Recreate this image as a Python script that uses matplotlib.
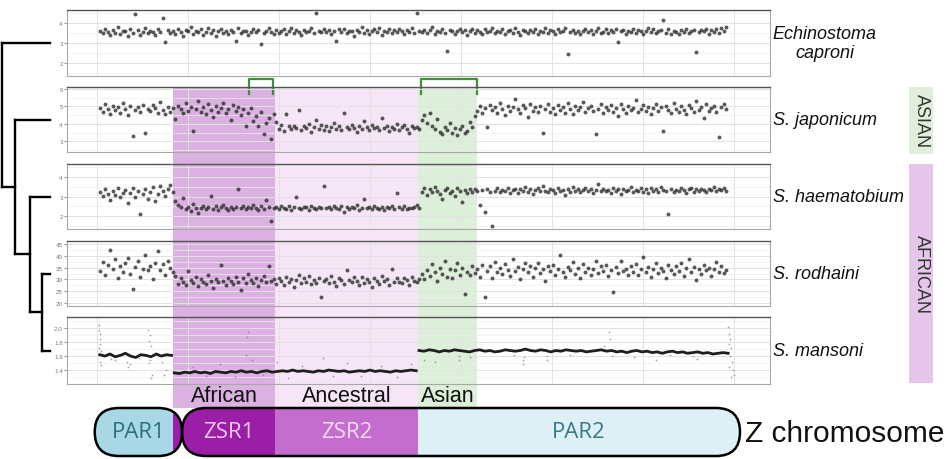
import numpy as np
import matplotlib
matplotlib.use("Agg")
import matplotlib.pyplot as plt
from matplotlib.patches import FancyBboxPatch, Rectangle
from matplotlib.ticker import AutoMinorLocator

plt.rcParams['font.family'] = ['Liberation Sans', 'DejaVu Sans']

# ---- data (Z coverage per window, position in Mb) ----
species = ["Echinostoma\ncaproni", "S. japonicum", "S. haematobium", "S. rodhaini", "S. mansoni"]

echinostoma = [
    3.62, 3.48, 3.71, 3.55, 3.40, 3.66, 3.52, 3.78, 3.45, 3.60,
    3.58, 3.35, 3.69, 3.50, 4.45, 3.63, 3.42, 3.57, 3.74, 3.49,
    3.61, 3.53, 3.38, 3.70, 3.56, 4.25, 3.04, 3.65, 3.51, 3.59,
    3.47, 3.72, 3.55, 3.33, 3.64, 3.58, 3.80, 3.46, 3.62, 3.54,
    3.68, 3.41, 3.57, 3.75, 3.50, 3.63, 3.36, 3.59, 3.71, 3.52,
    3.60, 3.44, 3.66, 3.55, 3.12, 3.73, 3.49, 3.58, 3.62, 3.39,
    3.57, 3.70, 3.53, 3.64, 2.96, 3.48, 3.61, 3.77, 3.55, 3.43,
    3.66, 3.52, 3.59, 3.69, 3.46, 3.58, 3.73, 3.50, 3.63, 3.56,
    3.41, 3.67, 3.54, 3.60, 3.75, 3.48, 4.50, 3.62, 3.57, 3.70,
    3.53, 3.64, 3.45, 3.59, 3.11, 3.68, 3.55, 3.72, 3.49, 3.61,
    3.58, 3.36, 3.66, 3.54, 3.79, 3.51, 3.63, 3.47, 3.60, 3.69,
    3.55, 3.74, 3.42, 3.62, 3.57, 3.68, 3.50, 3.64, 3.53, 3.71,
    3.59, 3.46, 3.65, 3.56, 3.73, 3.48, 4.48, 3.61, 3.55, 3.67,
    3.52, 3.63, 3.78, 3.44, 3.60, 3.57, 3.69, 3.51, 2.62, 3.65,
    3.58, 3.47, 3.62, 3.70, 3.54, 3.66, 3.41, 3.59, 3.72, 3.50,
    3.64, 3.56, 3.43, 3.68, 3.53, 3.61, 3.75, 3.48, 3.60, 3.57,
    3.69, 3.45, 3.58, 3.63, 3.51, 3.74, 3.55, 3.40, 3.66, 3.59,
    3.52, 3.67, 3.57, 3.71, 3.46, 3.62, 3.55, 3.77, 3.49, 3.64,
    3.58, 3.43, 3.68, 3.54, 3.61, 3.73, 2.43, 3.56, 3.65, 3.50,
    3.62, 3.47, 3.59, 3.70, 3.53, 3.66, 3.44, 3.60, 3.76, 3.52,
    3.57, 3.69, 3.48, 3.63, 3.55, 3.72, 3.05, 3.58, 3.64, 3.46,
    3.61, 3.54, 3.71, 3.49, 3.66, 3.58, 3.43, 3.62, 3.74, 3.55,
    3.68, 3.50, 3.59, 3.64, 4.15, 3.52, 3.70, 3.47, 3.61, 3.57,
    3.45, 3.66, 3.55, 3.72, 3.49, 3.60, 3.67, 2.55, 3.53, 3.63,
    3.58, 3.71, 3.46, 3.64, 3.56, 3.69, 3.52, 3.75, 3.60, 3.81,
]

japonicum = [
    4.92, 4.70, 5.15, 4.85, 4.58, 5.02, 4.78, 4.95, 4.63, 5.20,
    4.88, 4.52, 5.05, 3.30, 4.80, 4.97, 4.66, 5.10, 3.45, 4.83,
    4.74, 5.08, 4.90, 4.61, 5.25, 4.82, 4.55, 4.99, 4.71, 4.93,
    4.30, 5.05, 4.88, 4.62, 5.18, 4.75, 4.98, 3.60, 4.85, 5.30,
    4.70, 4.95, 4.55, 5.12, 4.80, 4.40, 5.02, 4.68, 4.90, 5.22,
    4.60, 4.85, 4.25, 5.08, 4.72, 4.96, 4.50, 4.83, 3.90, 4.65,
    4.92, 4.18, 4.45, 3.85, 4.70, 3.40, 4.05, 4.35, 3.10, 4.55,
    4.10, 3.72, 3.95, 3.60, 4.55, 3.85, 3.68, 3.90, 3.78, 4.80,
    3.62, 3.88, 3.75, 3.98, 3.55, 3.82, 4.20, 3.70, 3.92, 3.66,
    3.85, 3.58, 3.79, 4.05, 3.73, 3.90, 3.64, 4.60, 3.81, 3.69,
    3.94, 3.77, 3.52, 3.86, 3.71, 4.15, 3.80, 3.63, 3.96, 3.74,
    3.83, 3.67, 4.35, 3.78, 3.89, 3.57, 3.84, 3.72, 3.99, 3.65,
    3.80, 3.91, 3.70, 3.45, 3.87, 3.76, 3.82, 3.68, 4.25, 4.50,
    4.05, 4.62, 3.85, 3.70, 4.30, 3.55, 3.40, 3.80, 3.62, 4.05,
    3.50, 3.75, 3.35, 3.68, 3.90, 3.45, 3.60, 4.10, 3.82, 4.45,
    4.75, 5.05, 4.60, 4.92, 3.80, 5.10, 4.78, 4.95, 4.65, 5.20,
    4.88, 4.50, 5.02, 4.72, 4.98, 5.45, 4.83, 4.62, 5.08, 4.90,
    4.40, 5.12, 4.76, 4.95, 4.68, 5.00, 3.50, 4.86, 5.15, 4.70,
    4.93, 4.58, 5.06, 4.80, 4.97, 4.64, 5.18, 4.85, 4.55, 5.03,
    4.78, 4.96, 5.25, 4.67, 4.90, 5.05, 4.73, 3.40, 4.88, 5.12,
    4.62, 4.99, 4.81, 5.08, 4.70, 4.94, 4.45, 5.16, 4.84, 4.60,
    5.02, 4.77, 4.91, 5.40, 4.68, 4.86, 5.10, 4.74, 4.97, 4.56,
    4.89, 5.14, 4.72, 4.95, 3.60, 5.05, 4.80, 4.63, 5.22, 4.87,
    4.70, 5.00, 4.82, 4.58, 5.08, 4.93, 4.66, 5.30, 4.79, 4.98,
    4.35, 5.12, 4.75, 4.90, 5.05, 4.68, 3.25, 4.95, 5.15, 4.85,
]

haematobium = [
    3.25, 3.05, 3.40, 3.15, 2.80, 3.30, 3.10, 3.45, 2.95, 3.20,
    3.35, 2.65, 3.18, 3.42, 3.00, 3.28, 2.10, 3.12, 3.38, 2.85,
    3.22, 3.48, 2.75, 3.15, 3.55, 3.30, 3.05, 3.40, 3.60, 3.25,
    2.75, 2.55, 2.45, 2.90, 2.35, 2.48, 2.28, 2.60, 2.40, 2.15,
    2.42, 2.52, 2.36, 2.46, 3.05, 2.38, 2.50, 2.33, 2.44, 2.55,
    2.40, 2.30, 2.48, 2.37, 2.45, 3.40, 2.41, 2.52, 2.34, 2.47,
    2.39, 2.55, 2.43, 2.31, 2.49, 2.36, 2.80, 2.44, 1.75, 2.40,
    2.46, 2.35, 2.50, 2.42, 2.38, 2.53, 2.32, 2.45, 2.95, 2.41,
    2.37, 2.48, 2.44, 2.30, 2.51, 2.40, 2.36, 2.47, 2.43, 3.55,
    2.39, 2.45, 2.34, 2.52, 2.41, 2.38, 2.49, 2.20, 2.44, 2.36,
    2.47, 2.40, 2.55, 2.33, 2.43, 2.85, 2.39, 2.46, 2.35, 2.50,
    2.42, 2.37, 2.48, 2.31, 2.44, 2.40, 2.52, 2.36, 3.20, 2.45,
    2.38, 2.49, 2.34, 2.43, 2.41, 2.47, 2.56, 2.39, 3.25, 3.45,
    3.10, 3.38, 3.22, 3.50, 3.28, 3.15, 2.85, 3.35, 3.42, 3.20,
    3.30, 3.05, 3.45, 3.26, 2.70, 3.33, 3.18, 3.40, 3.24, 3.36,
    3.28, 2.55, 3.32, 2.20, 3.38, 3.25, 1.50, 3.30, 3.42, 3.22,
    3.35, 3.27, 3.45, 3.20, 3.31, 3.40, 3.18, 3.36, 3.29, 3.50,
    3.24, 3.38, 3.15, 3.33, 3.42, 3.26, 3.55, 3.30, 3.21, 3.37,
    3.32, 3.19, 3.44, 3.28, 3.35, 3.10, 3.40, 3.25, 3.48, 3.30,
    3.36, 3.23, 3.31, 3.46, 3.27, 3.38, 3.17, 3.34, 3.65, 3.29,
    3.41, 3.26, 3.33, 3.20, 3.45, 3.30, 3.37, 3.12, 3.39, 3.28,
    3.34, 3.47, 3.22, 3.35, 3.29, 3.42, 3.25, 3.38, 3.18, 3.43,
    3.30, 3.36, 3.24, 3.49, 3.32, 3.27, 2.10, 3.40, 3.21, 3.35,
    3.28, 3.44, 3.33, 3.19, 3.38, 3.46, 3.25, 3.36, 3.30, 3.41,
    3.35, 3.22, 3.40, 3.31, 3.48, 3.27, 3.37, 3.33, 3.44, 3.29,
]

rodhaini = [
    33.5, 37.2, 31.8, 36.0, 42.5, 34.2, 38.5, 30.5, 35.8, 33.0,
    36.8, 39.0, 32.5, 26.0, 35.2, 37.8, 31.2, 34.6, 40.2, 33.8,
    35.5, 30.0, 37.0, 42.0, 34.0, 36.5, 32.0, 38.0, 35.0, 33.2,
    31.5, 28.0, 30.5, 29.0, 27.5, 33.5, 29.8, 28.5, 31.0, 27.0,
    30.2, 29.0, 28.2, 31.8, 29.5, 26.5, 30.0, 28.8, 36.0, 29.2,
    27.8, 30.8, 29.4, 28.0, 31.2, 29.0, 25.5, 30.4, 28.6, 32.5,
    29.6, 28.4, 30.6, 27.2, 29.8, 31.4, 28.8, 35.5, 29.2, 30.0,
    28.2, 30.8, 29.5, 27.6, 31.0, 28.9, 30.2, 26.8, 29.7, 32.0,
    28.5, 30.4, 29.1, 31.6, 27.9, 29.8, 28.3, 30.7, 22.5, 29.4,
    30.1, 28.6, 31.3, 29.0, 27.4, 30.5, 29.6, 28.1, 33.8, 29.9,
    28.8, 30.9, 29.3, 27.7, 31.1, 28.4, 30.3, 29.0, 26.9, 30.6,
    29.5, 28.0, 31.5, 29.2, 30.0, 27.5, 34.5, 28.7, 30.4, 29.1,
    28.3, 30.8, 29.6, 27.8, 31.2, 29.4, 28.9, 30.1, 32.5, 30.0,
    34.0, 31.5, 36.5, 33.0, 29.5, 35.0, 32.2, 38.0, 31.0, 34.5,
    30.5, 33.8, 36.8, 32.0, 34.8, 24.0, 33.2, 31.8, 35.5, 32.8,
    34.5, 31.0, 36.2, 22.5, 33.5, 35.8, 30.8, 37.5, 33.0, 34.8,
    32.2, 36.5, 34.0, 31.5, 38.8, 33.6, 35.2, 30.0, 34.4, 36.8,
    33.0, 35.5, 31.2, 34.8, 37.0, 32.6, 34.2, 29.5, 35.8, 33.4,
    36.0, 32.0, 34.6, 40.5, 33.2, 31.0, 35.4, 33.8, 37.2, 32.4,
    34.8, 30.5, 36.4, 33.0, 35.0, 31.8, 34.2, 38.0, 32.8, 35.6,
    33.6, 36.2, 31.4, 34.0, 24.5, 35.2, 32.6, 37.8, 33.4, 34.6,
    31.8, 35.8, 33.2, 36.6, 32.0, 34.4, 39.5, 33.0, 35.4, 31.2,
    34.2, 37.0, 32.8, 35.0, 33.6, 30.8, 36.0, 34.0, 32.2, 35.8,
    33.4, 36.8, 31.6, 34.8, 38.5, 33.0, 35.4, 29.8, 34.6, 32.4,
    36.2, 33.8, 35.0, 31.4, 34.4, 37.4, 33.2, 35.6, 32.8, 34.0,
]
win_start, win_end = 0.33, 69.2

# S. mansoni: dense windows, drawn as a line per region
mansoni_par1 = [1.62, 1.60, 1.63, 1.59, 1.61, 1.64, 1.60, 1.58, 1.62, 1.61,
                1.59, 1.63, 1.60, 1.62, 1.61]
mansoni_zsr = [1.36, 1.35, 1.37, 1.36, 1.38, 1.36, 1.37, 1.35, 1.38, 1.37,
               1.36, 1.38, 1.37, 1.39, 1.37, 1.38, 1.36, 1.38, 1.39, 1.37,
               1.38, 1.39, 1.38, 1.40, 1.38, 1.39, 1.38, 1.37, 1.39, 1.38,
               1.40, 1.39, 1.38, 1.39, 1.37, 1.38, 1.39, 1.38, 1.40, 1.38,
               1.39, 1.38, 1.37, 1.39, 1.38, 1.39, 1.40, 1.39]
mansoni_par2 = [1.68, 1.67, 1.69, 1.68, 1.66, 1.68, 1.67, 1.69, 1.68, 1.67,
                1.66, 1.68, 1.69, 1.67, 1.68, 1.66, 1.67, 1.69, 1.68, 1.67,
                1.68, 1.70, 1.68, 1.67, 1.69, 1.68, 1.66, 1.68, 1.67, 1.69,
                1.68, 1.67, 1.68, 1.66, 1.67, 1.68, 1.69, 1.67, 1.68, 1.66,
                1.67, 1.65, 1.67, 1.68, 1.66, 1.67, 1.65, 1.66, 1.64, 1.66,
                1.67, 1.65, 1.66, 1.64, 1.65, 1.66, 1.64, 1.65, 1.63, 1.64,
                1.65, 1.64]
mansoni_ranges = [(0.3, 8.2), (8.5, 35.1), (35.4, 69.4)]
mansoni_spread_x = [0.2, 0.25, 0.3, 0.3, 0.35, 0.25, 0.4, 0.35, 0.45,
                    5.6, 5.8, 5.7, 5.9, 5.8, 5.7, 6.0, 5.9,
                    3.3, 3.6, 3.4, 2.0, 7.2, 7.6, 7.4, 4.6, 1.5,
                    10.5, 12.0, 13.5, 15.2, 16.4, 16.5, 16.6, 17.0, 18.3, 19.8,
                    21.0, 22.5, 24.8, 26.0, 27.5, 29.0, 31.2, 33.0, 34.5, 36.0, 37.2,
                    39.8, 39.8, 41.0, 45.8, 46.8, 46.8, 47.0, 49.5, 49.5, 52.0,
                    55.8, 56.3, 56.4, 56.6, 59.0, 61.5, 63.0, 65.5, 66.0,
                    69.4, 69.5, 69.6, 69.5, 69.7, 69.6, 69.8, 69.5, 69.9, 70.0, 69.7]
mansoni_spread_y = [2.04, 1.97, 1.92, 1.85, 1.78, 1.72, 1.68, 1.52, 1.47,
                    1.98, 1.90, 1.82, 1.74, 1.55, 1.50, 1.33, 1.29,
                    1.52, 1.48, 1.45, 1.55, 1.52, 1.40, 1.33, 1.57, 1.56,
                    1.45, 1.31, 1.48, 1.30, 1.62, 1.88, 1.95, 1.55, 1.33, 1.52,
                    1.29, 1.46, 1.57, 1.31, 1.50, 1.32, 1.46, 1.30, 1.49, 1.55, 1.52,
                    1.60, 1.55, 1.58, 1.62, 1.55, 1.48, 1.58, 1.60, 1.54, 1.62,
                    1.75, 1.94, 1.84, 1.60, 1.58, 1.55, 1.62, 1.60, 1.56,
                    2.02, 1.92, 1.85, 1.78, 1.72, 1.60, 1.52, 1.45, 1.40, 1.33, 1.30]

y_ticks = [[2, 3, 4], [3, 4, 5, 6], [2, 3, 4], [20, 25, 30, 35, 40, 45], [1.4, 1.6, 1.8, 2.0]]
y_fmt = ["{:g}", "{:g}", "{:g}", "{:g}", "{:.1f}"]
y_limits = [(1.35, 4.65), (2.38, 6.12), (1.33, 4.67), (18.7, 46.3), (1.2, 2.16)]

strata = ["African", "Ancestral", "Asian"]
strata_start = [8.35, 19.56, 35.27]
strata_end = [19.56, 35.27, 41.76]
strata_colors = ["#dab1e0", "#f6e5f7", "#dcefd8"]

bracket_start = [16.7, 35.6]
bracket_end = [19.3, 41.76]

chrom_regions = ["PAR1", "ZSR1", "ZSR2", "PAR2"]
chrom_bounds = [-0.25, 8.35, 19.56, 35.27, 70.7]
chrom_colors = ["#a8d8e5", "#9b1fa6", "#c56dce", "#dcf0f6"]
chrom_text = ["#2f6e7f", "#f4c8f5", "#f8dcf8", "#3b7787"]
arm_split = 9.35

clades = ["ASIAN", "AFRICAN"]
clade_colors = ["#e1eedb", "#e6c5eb"]

# ladder tree: depth of internal nodes, root first
node_depth = [2, 15, 30, 42]
leaf_depth = 50

# ---- layout (pixels) ----
W, H = 953, 460
X0, X1 = 67, 770
rows = [(11, 77), (88, 153), (165, 230), (242, 307), (318, 385)]
XLIM = (-3.3, 74.0)
CHROM_TOP, CHROM_BOT = 409, 457


def fig_rect(x0, y0, x1, y1):
    return [x0 / W, 1 - y1 / H, (x1 - x0) / W, (y1 - y0) / H]


fig = plt.figure(figsize=(W / 100, H / 100), dpi=100)

deco = fig.add_axes([0, 0, 1, 1], zorder=0)
deco.set_xlim(0, W)
deco.set_ylim(H, 0)
deco.axis('off')

band = fig.add_axes(fig_rect(X0, 75, X1, H), zorder=1)
band.set_xlim(*XLIM)
band.set_ylim(H, 75)
band.axis('off')

panels = []
for i, (t, b) in enumerate(rows):
    ax = fig.add_axes(fig_rect(X0, t, X1, b), zorder=2)
    ax.set_facecolor('none')
    ax.set_xlim(*XLIM)
    ax.set_ylim(*y_limits[i])
    ax.set_xticks(range(0, 71, 10))
    ax.set_xticklabels([])
    ax.tick_params(axis='x', length=0)
    ax.set_yticks(y_ticks[i])
    ax.set_yticklabels([y_fmt[i].format(v) for v in y_ticks[i]])
    ax.yaxis.set_minor_locator(AutoMinorLocator(2))
    ax.tick_params(axis='y', which='major', labelsize=4.5, labelcolor='#777777',
                   length=2, color='#999999', pad=1)
    ax.tick_params(axis='y', which='minor', length=0)
    ax.grid(which='major', color='#e2e2e2', lw=0.7)
    ax.grid(which='minor', axis='y', color='#eeeeee', lw=0.5)
    ax.set_axisbelow(True)
    for s in ax.spines.values():
        s.set_color('#a8a8a8')
        s.set_linewidth(0.8)
    ax.spines['top'].set_color('#555555')
    ax.spines['top'].set_linewidth(1.0)
    ax.text(1.004, 0.5, species[i], transform=ax.transAxes, fontsize=13,
            style='italic', va='center', ha='left', multialignment='center', color='#111111')
    panels.append(ax)

# scatter panels
for ax, vals in zip(panels[:4], [echinostoma, japonicum, haematobium, rodhaini]):
    pos = np.linspace(win_start, win_end, len(vals))
    ax.scatter(pos, vals, s=8, color='#2a2a2a', alpha=0.78, linewidths=0)

# S. mansoni
ax = panels[4]
ax.scatter(mansoni_spread_x, mansoni_spread_y, s=1.5, color='#777777', alpha=0.7, linewidths=0)
for vals, (a, b) in zip([mansoni_par1, mansoni_zsr, mansoni_par2], mansoni_ranges):
    ax.plot(np.linspace(a, b, len(vals)), vals, color='#1e1e1e', lw=2.0)

# strata shading across panels 2-5 and labels
shade_top = rows[1][0]
for name, a, b, c in zip(strata, strata_start, strata_end, strata_colors):
    band.add_patch(Rectangle((a, shade_top), b - a, CHROM_TOP - shade_top,
                             facecolor=c, edgecolor='none', zorder=0))
    band.text((a + b) / 2, 402, name, ha='center', va='baseline', fontsize=15.5, color='#111111')

# green brackets above S. japonicum
for a, b in zip(bracket_start, bracket_end):
    band.plot([a, a, b, b], [95, 80, 80, 95], color='#3f8f3f', lw=1.6, zorder=3)

# chromosome schematic
r_x = 24 / 9.095
arms = [(chrom_bounds[0], arm_split), (arm_split, chrom_bounds[-1])]
for a, b in arms:
    outline = FancyBboxPatch((a, CHROM_TOP), b - a, CHROM_BOT - CHROM_TOP,
                             boxstyle=f"round,pad=0,rounding_size={r_x}",
                             mutation_aspect=9.095, facecolor='none',
                             edgecolor='black', lw=1.8, zorder=5)
    band.add_patch(outline)
    for k in range(len(chrom_regions)):
        seg = Rectangle((chrom_bounds[k], CHROM_TOP), chrom_bounds[k + 1] - chrom_bounds[k],
                        CHROM_BOT - CHROM_TOP, facecolor=chrom_colors[k], edgecolor='none', zorder=4)
        band.add_patch(seg)
        seg.set_clip_path(outline)

label_x = [(chrom_bounds[0] + arm_split) / 2, (arm_split + chrom_bounds[2]) / 2,
           (chrom_bounds[2] + chrom_bounds[3]) / 2, (chrom_bounds[3] + chrom_bounds[4]) / 2]
for k, name in enumerate(chrom_regions):
    band.text(label_x[k], (CHROM_TOP + CHROM_BOT) / 2, name, ha='center', va='center',
              fontsize=16, color=chrom_text[k], family=['Open Sans', 'DejaVu Sans'], zorder=6)
band.text(chrom_bounds[-1] + 0.5, (CHROM_TOP + CHROM_BOT) / 2 + 1, "Z chromosome",
          ha='left', va='center', fontsize=21.5, color='#111111', zorder=6)

# phylogeny on the left
leaf_y = [(t + b) / 2 for t, b in rows]
sub_y, sub_x = leaf_y[-1], leaf_depth
for k in reversed(range(len(node_depth))):
    x = node_depth[k]
    kw = dict(color='black', lw=1.7, solid_capstyle='projecting')
    deco.plot([x, leaf_depth], [leaf_y[k], leaf_y[k]], **kw)
    deco.plot([x, sub_x], [sub_y, sub_y], **kw)
    deco.plot([x, x], [leaf_y[k], sub_y], **kw)
    sub_y, sub_x = (leaf_y[k] + sub_y) / 2, x

# clade bars on the right
clade_rows = [(rows[1][0], rows[1][1] + 2), (rows[2][0], rows[4][1] - 1)]
for name, c, (t, b) in zip(clades, clade_colors, clade_rows):
    deco.add_patch(Rectangle((909, t), 24, b - t, facecolor=c, edgecolor='none'))
    deco.text(921, (t + b) / 2, name, rotation=270, ha='center', va='center',
              fontsize=13, color='#333333')

fig.savefig("out.png", dpi=100)
